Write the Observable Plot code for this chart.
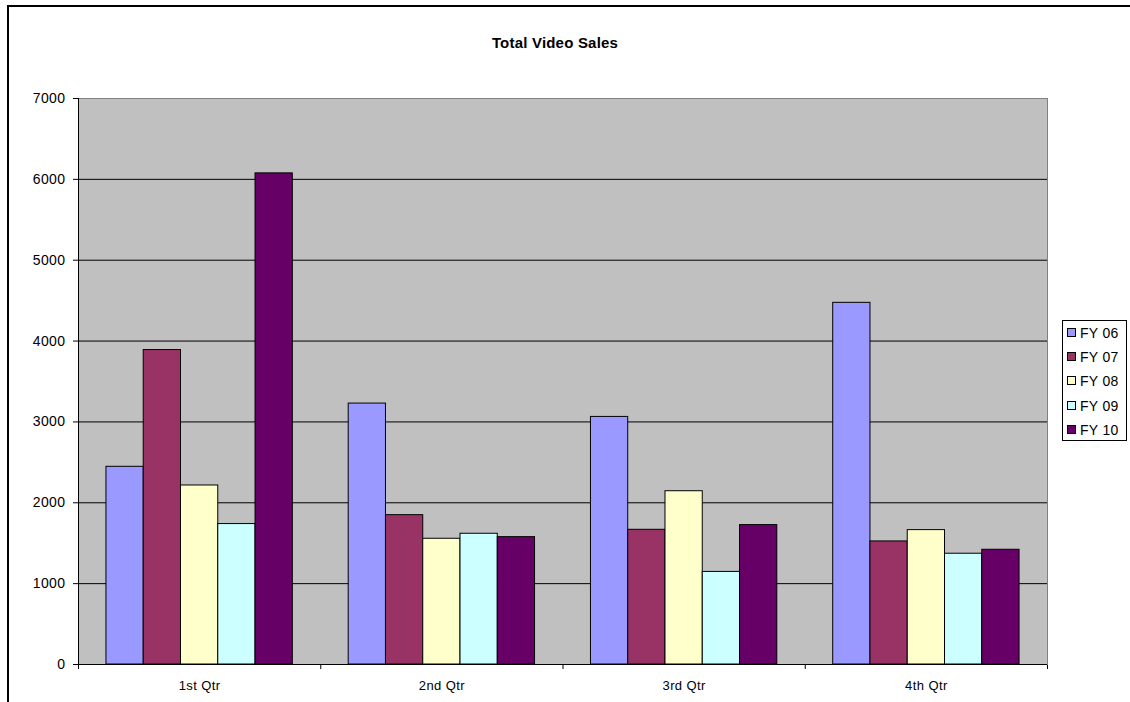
<!DOCTYPE html>
<html>
<head>
<meta charset="utf-8">
<script src="https://cdn.jsdelivr.net/npm/d3@7"></script>
<script src="https://cdn.jsdelivr.net/npm/@observablehq/plot@0.6"></script>
<style>
  html, body { margin: 0; padding: 0; background: #fff; overflow: hidden; }
  #wrap { position: relative; width: 1130px; height: 702px; overflow: hidden; font-family: "Liberation Sans", Arial, sans-serif; }
  #border { position: absolute; left: 7px; top: 5px; width: 1200px; height: 800px; border-left: 2px solid #000; border-top: 2px solid #000; }
  #title { position: absolute; left: 0; width: 1110px; top: 34px; text-align: center; font-weight: bold; font-size: 15px; letter-spacing: 0.2px; }
  #chart { position: absolute; left: 0; top: 60px; }
  #legend { position: absolute; left: 1062px; top: 320px; width: 63px; height: 119px; border: 1px solid #000; background: #fff; box-sizing: content-box; }
  .item { position: absolute; left: 4px; height: 14px; font-size: 14px; line-height: 14px; white-space: nowrap; letter-spacing: 0.3px; }
  .sw { display: inline-block; width: 7px; height: 7px; border: 1px solid #000; margin-right: 4px; vertical-align: 1px; }
</style>
</head>
<body>
<div id="wrap">
  <div id="border"></div>
  <div id="title"></div>
  <div id="chart"></div>
  <div id="legend"></div>
</div>
<script>
const title = "Total Video Sales";
const quarters = ["1st Qtr", "2nd Qtr", "3rd Qtr", "4th Qtr"];
const series = ["FY 06", "FY 07", "FY 08", "FY 09", "FY 10"];
const colors = ["#9999FF", "#993366", "#FFFFCC", "#CCFFFF", "#660066"];
const fy06 = [2445, 3227, 3062, 4473];
const fy07 = [3889, 1847, 1666, 1522];
const fy08 = [2214, 1555, 2143, 1662];
const fy09 = [1737, 1617, 1145, 1370];
const fy10 = [6074, 1575, 1724, 1419];
const yTicks = [0, 1000, 2000, 3000, 4000, 5000, 6000, 7000];

const seriesValues = [fy06, fy07, fy08, fy09, fy10];
// Excel-style clustered layout: gap width 150% of a bar
const gap = 1.5;
const slots = series.length + gap;
const rows = quarters.flatMap((q, qi) => series.map((s, si) => ({
  q, qi, s, si, v: seriesValues[si][qi]
})));

document.getElementById("title").textContent = title;

const chart = Plot.plot({
  width: 1130,
  height: 642,
  marginLeft: 78,
  marginRight: 83,
  marginTop: 38,
  marginBottom: 38,
  style: { fontFamily: "'Liberation Sans', Arial, sans-serif", fontSize: "14px", color: "#000", background: "transparent", overflow: "visible", letterSpacing: "0.4px" },
  x: { domain: [0, quarters.length], ticks: d3.range(quarters.length + 1), tickSize: 5, tickFormat: () => "", label: null },
  y: { domain: [0, 7000], ticks: yTicks, tickSize: 5, tickPadding: 8, tickFormat: d => String(d), label: null },
  color: { domain: series, range: colors },
  marks: [
    Plot.frame({ fill: "#C0C0C0", stroke: "#808080" }),
    Plot.ruleY(yTicks.filter(d => d > 0 && d < 7000), { stroke: "#000", strokeWidth: 1 }),
    Plot.rectY(rows, {
      x1: d => d.qi + (gap / 2 + d.si) / slots,
      x2: d => d.qi + (gap / 2 + d.si + 1) / slots,
      y: "v",
      fill: "s",
      stroke: "#000",
      strokeWidth: 1
    }),
    Plot.ruleX([0], { stroke: "#000" }),
    Plot.ruleY([0], { stroke: "#000" }),
    Plot.text(quarters, {
      x: (d, i) => i + 0.5,
      text: d => d,
      frameAnchor: "bottom",
      dy: 25,
      fontSize: 13
    })
  ]
});
document.getElementById("chart").appendChild(chart);

const legend = document.getElementById("legend");
series.forEach((s, i) => {
  const it = document.createElement("div");
  it.className = "item";
  it.style.top = (5 + i * 24.2) + "px";
  const sw = document.createElement("span");
  sw.className = "sw";
  sw.style.background = colors[i];
  it.appendChild(sw);
  it.appendChild(document.createTextNode(s));
  legend.appendChild(it);
});
</script>
</body>
</html>
